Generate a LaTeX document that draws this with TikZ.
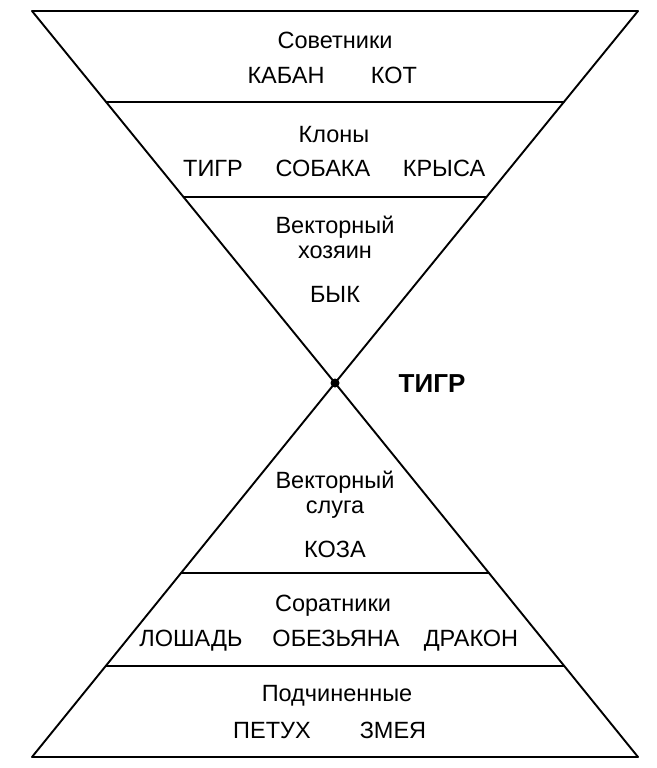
\documentclass[tikz,border=0pt]{standalone}
\usepackage{fontspec}
\setmainfont{Liberation Sans}
\usetikzlibrary{calc}
\begin{document}
\begin{tikzpicture}[x=1pt,y=-1pt,
  edge/.style={line width=1.9pt,line cap=round,line join=round},
  lbl/.style={inner sep=0pt,text height=16.8pt,text depth=0pt,font=\fontsize{23.5}{28}\selectfont},
  big/.style={inner sep=0pt,text height=18.6pt,text depth=0pt,font=\fontsize{26}{30}\selectfont\bfseries}]
\useasboundingbox (0,0) rectangle (656,768);
\coordinate (tl) at (32,11);
\coordinate (tr) at (638,11);
\coordinate (c) at (335,383);
\coordinate (bl) at (32,757);
\coordinate (br) at (638,757);
% hourglass outline
\draw[edge] (tl) -- (tr) -- (c) -- cycle;
\draw[edge] (bl) -- (br) -- (c) -- cycle;
% dividing lines
\coordinate (a1) at ($(tl)!{91/372}!(c)$);
\coordinate (a2) at ($(tr)!{91/372}!(c)$);
\coordinate (b1) at ($(tl)!{186/372}!(c)$);
\coordinate (b2) at ($(tr)!{186/372}!(c)$);
\coordinate (d1) at ($(c)!{190/374}!(bl)$);
\coordinate (d2) at ($(c)!{190/374}!(br)$);
\coordinate (e1) at ($(c)!{283/374}!(bl)$);
\coordinate (e2) at ($(c)!{283/374}!(br)$);
\draw[edge] (a1) -- (a2);
\draw[edge] (b1) -- (b2);
\draw[edge] (d1) -- (d2);
\draw[edge] (e1) -- (e2);
\fill (c) circle (4.5);
% texts
\node[lbl] (sov) at (335,40) {Советники};
\node[lbl] (kaban) at (286,75) {КАБАН};
\node[lbl] (kot) at (394,75) {КОТ};
\node[lbl] (klony) at (334,134) {Клоны};
\node[lbl] (tigr1) at (213,168) {ТИГР};
\node[lbl] (sobaka) at (323,168) {СОБАКА};
\node[lbl] (krysa) at (444,168) {КРЫСА};
\node[lbl] (vh1) at (335,225) {Векторный};
\node[lbl] (vh2) at (335,250) {хозяин};
\node[lbl] (byk) at (335,294) {БЫК};
\node[big] (tigr) at (432,383) {ТИГР};
\node[lbl] (vs1) at (335,480) {Векторный};
\node[lbl] (vs2) at (335,505) {слуга};
\node[lbl] (koza) at (335,549) {КОЗА};
\node[lbl] (sor) at (333,603) {Соратники};
\node[lbl] (losh) at (191,638) {ЛОШАДЬ};
\node[lbl] (obez) at (336,638) {ОБЕЗЬЯНА};
\node[lbl] (drak) at (471,638) {ДРАКОН};
\node[lbl] (podch) at (337,693) {Подчиненные};
\node[lbl] (petuh) at (272,730) {ПЕТУХ};
\node[lbl] (zmeya) at (393,730) {ЗМЕЯ};
\end{tikzpicture}
\end{document}
